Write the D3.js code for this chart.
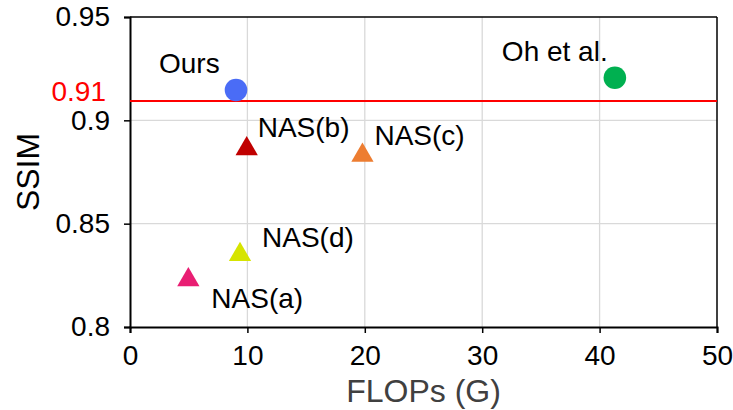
<!DOCTYPE html>
<html>
<head>
<meta charset="utf-8">
<script src="https://cdn.jsdelivr.net/npm/d3@7"></script>
<style>
  html, body { margin: 0; padding: 0; background: #fff; }
  svg { display: block; font-family: "Liberation Sans", Arial, Helvetica, sans-serif; }
</style>
</head>
<body>
<svg id="chart" width="733" height="410"></svg>
<script>
// ---- data ----
const names   = ["Ours", "Oh et al.", "NAS(a)", "NAS(b)", "NAS(c)", "NAS(d)"];
const flops   = [9.03, 41.3, 4.97, 9.94, 19.8, 9.37];
const ssim    = [0.9147, 0.9206, 0.8238, 0.8872, 0.884, 0.836];
const shapes  = ["circle", "circle", "triangle", "triangle", "triangle", "triangle"];
const colors  = ["#4a6cf6", "#00b050", "#e91e73", "#c00000", "#ed7d31", "#d6e400"];
const xTicks  = [0, 10, 20, 30, 40, 50];
const yTicks  = [0.8, 0.85, 0.9, 0.95];
const refValue = 0.9094;
const refLabel = "0.91";
// label offsets (dx, dy) relative to mark, in px
const labelDx = [-77, -113, 23, 11, 12, 22];
const labelDy = [-17, -17, 30, -10, -8, -6];

const svg = d3.select("#chart");
const L = 130, R = 717, T = 17, B = 327;
const FS = 28;

const x = d3.scaleLinear().domain([0, 50]).range([L, R]);
const y = d3.scaleLinear().domain([0.8, 0.95]).range([B, T]);

// gridlines
svg.append("g").selectAll("line.vg").data(xTicks.slice(1, -1)).join("line")
  .attr("x1", d => x(d)).attr("x2", d => x(d)).attr("y1", T).attr("y2", B)
  .attr("stroke", "#d9d9d9").attr("stroke-width", 1.3);
svg.append("g").selectAll("line.hg").data(yTicks.slice(1, -1)).join("line")
  .attr("x1", L).attr("x2", R).attr("y1", d => y(d)).attr("y2", d => y(d))
  .attr("stroke", "#d9d9d9").attr("stroke-width", 1.3);

// frame top/right
svg.append("line").attr("x1", L).attr("x2", R).attr("y1", T).attr("y2", T)
  .attr("stroke", "#000").attr("stroke-width", 1.5);
svg.append("line").attr("x1", R).attr("x2", R).attr("y1", T).attr("y2", B)
  .attr("stroke", "#000").attr("stroke-width", 1.5);

// axes
const xAxis = svg.append("g").attr("transform", `translate(0,${B})`)
  .call(d3.axisBottom(x).tickValues(xTicks).tickSize(6).tickPadding(6).tickFormat(d3.format("d")));
const yAxis = svg.append("g").attr("transform", `translate(${L},0)`)
  .call(d3.axisLeft(y).tickValues(yTicks).tickSize(6).tickPadding(14).tickFormat(d => String(+d)));
[xAxis, yAxis].forEach(g => {
  g.select(".domain").attr("stroke", "#000").attr("stroke-width", 2);
  g.selectAll(".tick line").attr("stroke", "#000").attr("stroke-width", 1.5);
  g.selectAll(".tick text").attr("fill", "#000").attr("font-size", FS)
    .attr("font-family", "'Liberation Sans', Arial, sans-serif");
});
xAxis.selectAll(".tick text").attr("dy", "0.92em");

// reference line
svg.append("line").attr("x1", L).attr("x2", R)
  .attr("y1", y(refValue)).attr("y2", y(refValue))
  .attr("stroke", "#ff0000").attr("stroke-width", 2);
svg.append("text").attr("x", L - 24).attr("y", y(refValue))
  .attr("text-anchor", "end").attr("fill", "#ff0000").attr("font-size", FS)
  .text(refLabel);

// marks
const data = names.map((n, i) => ({ n, fx: flops[i], sy: ssim[i], shape: shapes[i], c: colors[i], dx: labelDx[i], dy: labelDy[i] }));
const tri = d3.symbol().type(d3.symbolTriangle).size(215);
svg.append("g").selectAll("g.mark").data(data).join("g")
  .attr("transform", d => `translate(${x(d.fx)},${y(d.sy)})`)
  .each(function(d) {
    const g = d3.select(this);
    if (d.shape === "circle") {
      g.append("circle").attr("r", 11.3).attr("fill", d.c);
    } else {
      g.append("path").attr("d", tri).attr("transform", "translate(0,2)").attr("fill", d.c);
    }
  });

// point labels
svg.append("g").selectAll("text").data(data).join("text")
  .attr("x", d => x(d.fx) + d.dx).attr("y", d => y(d.sy) + d.dy)
  .attr("font-size", FS).attr("fill", "#000")
  .text(d => d.n);

// axis titles
svg.append("text").attr("x", (L + R) / 2).attr("y", 402)
  .attr("text-anchor", "middle").attr("font-size", 32).attr("fill", "#404040")
  .text("FLOPs (G)");
svg.append("text").attr("transform", `translate(39,${172}) rotate(-90)`)
  .attr("text-anchor", "middle").attr("font-size", 32).attr("fill", "#000")
  .text("SSIM");
</script>
</body>
</html>
